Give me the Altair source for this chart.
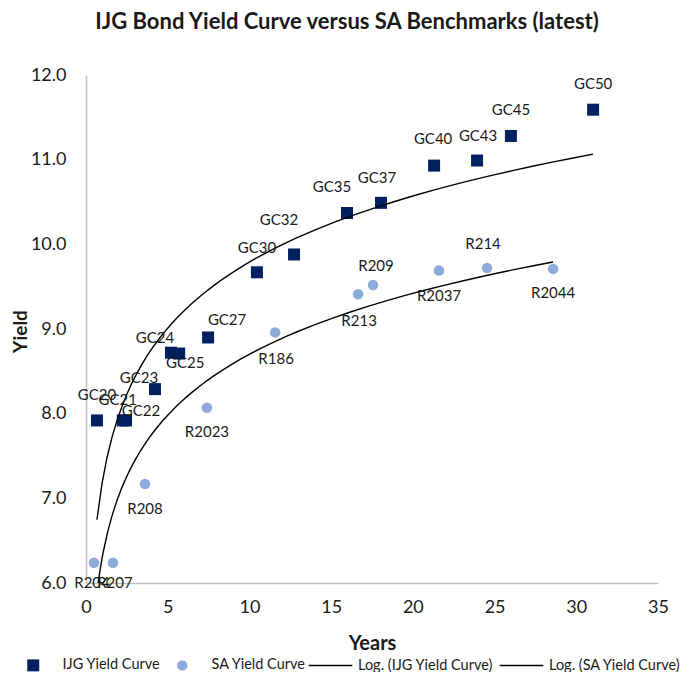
import altair as alt
import pandas as pd

# ---- data ----
ijg_names = ["GC20", "GC21", "GC22", "GC23", "GC24", "GC25", "GC27", "GC30",
             "GC32", "GC35", "GC37", "GC40", "GC43", "GC45", "GC50"]
ijg_years = [0.67, 2.25, 2.45, 4.22, 5.2, 5.7, 7.47, 10.46,
             12.73, 15.97, 18.05, 21.3, 23.93, 26.0, 31.03]
ijg_yield = [7.92, 7.92, 7.92, 8.29, 8.72, 8.71, 8.90, 9.67,
             9.88, 10.37, 10.49, 10.93, 10.99, 11.28, 11.59]

sa_names = ["R204", "R207", "R208", "R2023", "R186", "R213", "R209",
            "R2037", "R214", "R2044"]
sa_years = [0.49, 1.65, 3.61, 7.4, 11.57, 16.65, 17.56, 21.6, 24.54, 28.58]
sa_yield = [6.24, 6.24, 7.17, 8.07, 8.96, 9.41, 9.52, 9.69, 9.72, 9.71]

series_names = ["IJG Yield Curve", "SA Yield Curve"]
fit_names = ["Log. (IJG Yield Curve)", "Log. (SA Yield Curve)"]

ijg_df = pd.DataFrame({"name": ijg_names, "years": ijg_years, "yield": ijg_yield,
                       "series": series_names[0], "fit": fit_names[0]})
sa_df = pd.DataFrame({"name": sa_names, "years": sa_years, "yield": sa_yield,
                      "series": series_names[1], "fit": fit_names[1]})
df = pd.concat([ijg_df, sa_df], ignore_index=True)

NAVY = "#002060"
LIGHT = "#8EAADB"
TXT = "#1a1a1a"

# label nudges (pixels) relative to each marker
nudge = {
    "GC20": (0, -25), "GC21": (-5, -20), "GC22": (15, -9), "GC23": (-16, -11),
    "GC24": (-16, -15), "GC25": (6, 9), "GC27": (19, -17), "GC30": (0, -24),
    "GC32": (-15, -34), "GC35": (-15, -26), "GC37": (-4, -25), "GC40": (-1, -27),
    "GC43": (1, -25), "GC45": (0, -26), "GC50": (0, -26),
    "R204": (-2, 20), "R207": (2, 20), "R208": (0, 25), "R2023": (0, 24),
    "R186": (1, 27), "R213": (1, 27), "R209": (3, -19), "R2037": (0, 25),
    "R214": (-4, -24), "R2044": (0, 24),
}

x_enc = alt.X("years:Q", scale=alt.Scale(domain=[0, 35], nice=False),
              axis=alt.Axis(values=list(range(0, 36, 5)), title="Years",
                            grid=False, ticks=False, tickSize=0, labelFlush=False,
                            domainColor="#BFBFBF", domainWidth=1.5,
                            labelFontSize=18, labelPadding=15, labelColor=TXT,
                            titleFontSize=20, titleFontWeight="bold",
                            titleColor=TXT, titlePadding=17))
y_enc = alt.Y("yield:Q", scale=alt.Scale(domain=[6, 12], nice=False, zero=False),
              axis=alt.Axis(values=[6, 7, 8, 9, 10, 11, 12], format=".1f",
                            title="Yield", grid=False, ticks=False, tickSize=0,
                            labelFlush=False,
                            domainColor="#BFBFBF", domainWidth=1.5,
                            labelFontSize=18, labelPadding=20, labelColor=TXT,
                            titleFontSize=19, titleFontWeight="bold",
                            titleColor=TXT, titleX=-56, titleY=256))

base = alt.Chart(df)

leg1 = dict(title=None, orient="none", direction="horizontal",
            legendX=-60, legendY=583, symbolSize=110,
            labelFontSize=14.5, labelOffset=22,
            columnPadding=14, padding=0, labelColor=TXT,
            symbolStrokeWidth=0)

points = base.mark_point(filled=True, opacity=1).encode(
    x=x_enc, y=y_enc,
    color=alt.Color("series:N",
                    scale=alt.Scale(domain=series_names, range=[NAVY, LIGHT]),
                    legend=alt.Legend(**leg1)),
    shape=alt.Shape("series:N",
                    scale=alt.Scale(domain=series_names, range=["square", "circle"]),
                    legend=alt.Legend(**leg1)),
    size=alt.Size("series:N",
                  scale=alt.Scale(domain=series_names, range=[144, 110]),
                  legend=None),
)

lines = base.transform_regression(
    "years", "yield", method="log", groupby=["fit"]
).mark_line(strokeWidth=1.4, clip=True).encode(
    x="years:Q", y="yield:Q",
    stroke=alt.Stroke("fit:N",
                      scale=alt.Scale(domain=fit_names, range=["black", "black"]),
                      legend=alt.Legend(title=None, orient="none", direction="horizontal",
                                        legendX=222, legendY=568, symbolType="stroke",
                                        symbolSize=1900, symbolStrokeWidth=1.4,
                                        labelFontSize=14.5, labelOffset=5,
                                        columnPadding=3, padding=0, labelColor=TXT)),
)

# labels, grouped by nudge
groups = {}
for nm, off in nudge.items():
    groups.setdefault(off, []).append(nm)

texts = []
for (dx, dy), names in groups.items():
    texts.append(
        base.transform_filter(alt.FieldOneOfPredicate(field="name", oneOf=names))
        .mark_text(dx=dx, dy=dy, fontSize=15, color=TXT, align="center", baseline="middle")
        .encode(x="years:Q", y="yield:Q", text="name:N")
    )

chart = alt.layer(points, lines, *texts).properties(
    width=572, height=508,
    title=alt.TitleParams("IJG Bond  Yield Curve versus SA Benchmarks (latest)",
                          fontSize=22, fontWeight="bold", color=TXT,
                          anchor="middle", dx=-25, offset=32),
    padding={"left": 78, "top": 67, "right": 33, "bottom": 89},
    autosize=alt.AutoSizeParams(type="none"),
).configure(font="Lato").configure_view(stroke=None)

chart.save("out.html", embed_options={"renderer": "svg", "actions": False})
